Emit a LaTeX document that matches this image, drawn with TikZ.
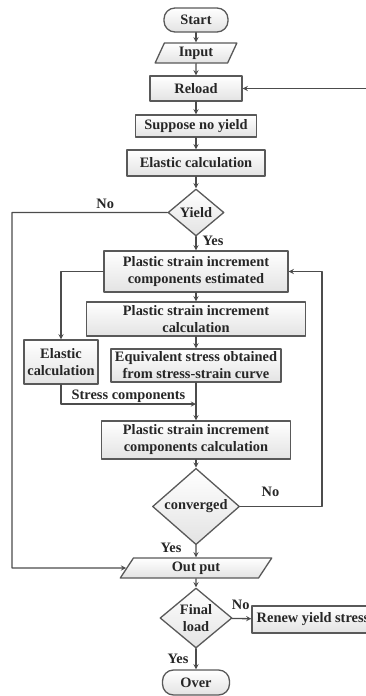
\documentclass[tikz,border=0pt]{standalone}
\usepackage{fontspec}
\setmainfont{Liberation Serif}
\usetikzlibrary{shapes.geometric}
\begin{document}
\begin{tikzpicture}[x=1pt,y=-1pt,line join=round,line cap=round,>=stealth,thick]
			\tikzset{every node/.style={font=\fontsize{14.4}{17}\selectfont\bfseries,inner sep=0pt,align=center,text=black!85}}
			\tikzset{blk/.style={rectangle,draw=gray!70!black,line width=1.3pt,top color=white,bottom color=gray!22},
				term/.style={blk,rounded corners=11pt},
				io/.style={blk,trapezium,trapezium left angle=68,trapezium right angle=112,trapezium stretches=true},
				dec/.style={blk,diamond},
				lnk/.style={draw=gray!60!black,line width=1.3pt}}
			\useasboundingbox (0,0) rectangle (366,696);
			\node[term,minimum width=64pt,minimum height=24pt] (start) at (196,20) {Start};
			\node[io,minimum width=82pt,minimum height=20pt] (input) at (196,53) {Input};
			\node[blk,minimum width=92pt,minimum height=25pt] (reload) at (196,88.5) {Reload};
			\node[blk,minimum width=121pt,minimum height=22pt] (suppose) at (196,126) {Suppose no yield};
			\node[blk,minimum width=138pt,minimum height=26pt] (elastic) at (196,163) {Elastic calculation};
			\node[dec,minimum width=56pt,minimum height=47pt] (yield) at (196,212.5) {Yield};
			\node[blk,minimum width=184pt,minimum height=41pt] (pse) at (196,271.5) {Plastic strain increment\\components estimated};
			\node[blk,minimum width=219pt,minimum height=34pt] (psc) at (196,319) {Plastic strain increment\\calculation};
			\node[blk,minimum width=170pt,minimum height=33pt] (eqs) at (196,365.5) {Equivalent stress obtained\\from stress-strain curve};
			\node[blk,minimum width=74pt,minimum height=44pt] (elas) at (61,362) {Elastic\\calculation};
			\node[blk,minimum width=189pt,minimum height=38pt] (pscc) at (196,440) {Plastic strain increment\\components calculation};
			\node[dec,minimum width=87pt,minimum height=67pt] (conv) at (196,506.5) {converged};
			\node[io,minimum width=152pt,minimum height=20pt] (output) at (196,568) {Out put};
			\node[dec,minimum width=72pt,minimum height=60pt] (final) at (196,618) {Final\\load};
			\node[blk,minimum width=122pt,minimum height=27pt] (renew) at (313,619.5) {Renew yield stress};
			\node[term,minimum width=67pt,minimum height=25pt] (over) at (196,682.5) {Over};
			\coordinate (rin) at (366,88.5);
			\coordinate (lft) at (12,568);
			\coordinate (rgt) at (322,506.5);
			\coordinate (join) at (196,404);
			\foreach \a/\b in {start/input,input/reload,reload/suppose,suppose/elastic,elastic/yield,pse/psc,psc/eqs,eqs/pscc,output/final}
			\draw[lnk,->] (\a)--(\b);
			\draw[lnk,->] (rin)--(reload);
			\draw[lnk,->] (yield.west) -| node[pos=0.2,above=3pt] {No} (lft) -- (output.west);
			\draw[lnk,->] (yield)--node[pos=0.3,right=6pt] {Yes} (pse);
			\draw[lnk,->] (pse.west) -| (elas.north);
			\draw[lnk,->] (elas.south) |- node[pos=0.75,above=1pt] {Stress components} (join);
			\draw[lnk,->] (pscc)--(conv);
			\draw[lnk,->] (conv.east)--node[pos=0.37,above=9pt] {No} (rgt) |- (pse.east);
			\draw[lnk,->] (conv)--node[pos=0.17,left=14pt] {Yes} (output);
			\draw[lnk,->] (final)--node[pos=0.45,above=8pt] {No} (renew);
			\draw[lnk,->] (final)--node[left=7pt] {Yes} (over);
		\end{tikzpicture}
\end{document}
